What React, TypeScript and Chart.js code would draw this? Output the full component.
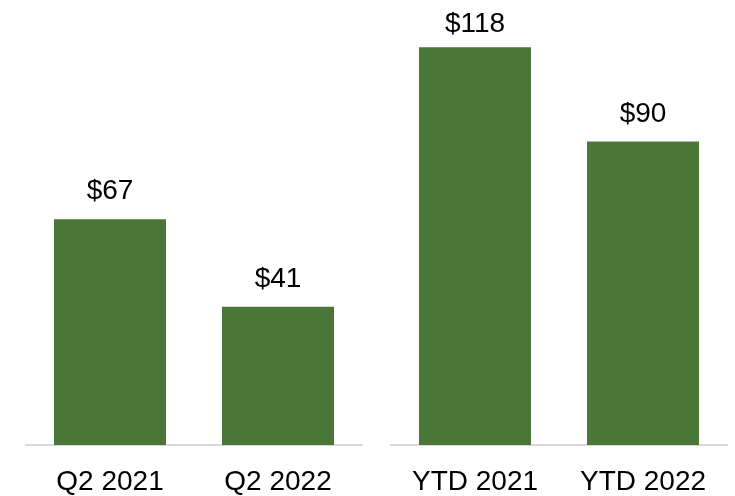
import React, { useEffect, useRef } from "react";
import { Chart, registerables } from "chart.js";

Chart.register(...registerables);

// ---- data ----
const q2Categories = ["Q2 2021", "Q2 2022"];
const q2Values = [67, 41];
const ytdCategories = ["YTD 2021", "YTD 2022"];
const ytdValues = [118, 90];
const valuePrefix = "$";
const yMax = 132;

const BAR_COLOR = "#4A7637";
const FONT_FAMILY = "'Liberation Sans', Arial, sans-serif";
const FONT_SIZE = 28;

const valueLabelPlugin = {
  id: "valueLabels",
  afterDatasetsDraw(chart: any) {
    const ctx = chart.ctx;
    ctx.save();
    ctx.font = `${FONT_SIZE}px ${FONT_FAMILY}`;
    ctx.fillStyle = "#000000";
    ctx.textAlign = "center";
    ctx.textBaseline = "alphabetic";
    chart.data.datasets.forEach((ds: any, di: number) => {
      const meta = chart.getDatasetMeta(di);
      meta.data.forEach((bar: any, i: number) => {
        // keep the label inside the canvas (pushed down toward the bar when near the top)
        const y = Math.max(bar.y - 20, chart.chartArea.top + 32);
        ctx.fillText(`${valuePrefix}${ds.data[i]}`, bar.x, y);
      });
    });
    ctx.restore();
  },
};

type PanelProps = {
  labels: string[];
  values: number[];
  left: number;
  width: number;
  padLeft: number;
  padRight: number;
};

function BarPanel({ labels, values, left, width, padLeft, padRight }: PanelProps) {
  const ref = useRef<HTMLCanvasElement | null>(null);
  useEffect(() => {
    if (!ref.current) return;
    const chart = new Chart(ref.current, {
      type: "bar",
      data: {
        labels,
        datasets: [
          {
            data: values,
            backgroundColor: BAR_COLOR,
            borderWidth: 0,
            categoryPercentage: 1,
            barPercentage: 2 / 3,
          },
        ],
      },
      options: {
        animation: false,
        responsive: false,
        maintainAspectRatio: false,
        layout: { padding: { left: padLeft, right: padRight, top: 0, bottom: 0 } },
        plugins: { legend: { display: false }, tooltip: { enabled: false } },
        scales: {
          x: {
            grid: { display: false, drawTicks: false },
            border: { display: true, color: "#D9D9D9", width: 2 },
            ticks: {
              color: "#000000",
              padding: 20,
              font: { family: FONT_FAMILY, size: FONT_SIZE },
              maxRotation: 0,
            },
            afterFit: (scale: any) => {
              scale.height = 51;
            },
          },
          y: { display: false, min: 0, max: yMax },
        },
      },
      plugins: [valueLabelPlugin],
    });
    return () => chart.destroy();
  }, []);
  return (
    <canvas
      ref={ref}
      width={width}
      height={496}
      style={{ position: "absolute", left, top: 0, width, height: 496 }}
    />
  );
}

export default function App() {
  useEffect(() => {
    document.body.style.margin = "0";
  }, []);
  return (
    <div style={{ position: "absolute", left: 0, top: 0, width: 735, height: 496, background: "#fff" }}>
      <BarPanel labels={q2Categories} values={q2Values} left={0} width={376} padLeft={26} padRight={14} />
      <BarPanel labels={ytdCategories} values={ytdValues} left={376} width={359} padLeft={15} padRight={8} />
    </div>
  );
}
